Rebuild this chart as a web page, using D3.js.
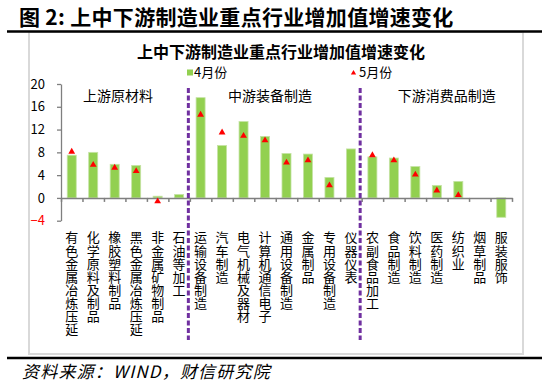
<!DOCTYPE html>
<html>
<head>
<meta charset="utf-8">
<script src="https://cdn.jsdelivr.net/npm/d3@7"></script>
<style>
  body { margin: 0; background: #fff; }
  text { font-family: "Noto Sans CJK SC", "Liberation Sans", sans-serif; }
</style>
</head>
<body>
<div class="canvas"></div>
<script>
// data
const categories = ['有色金属冶炼压延', '化学原料及制品', '橡胶塑料制品', '黑色金属冶炼压延', '非金属矿物制品', '石油等加工',
    '运输设备制造', '汽车制造', '电气机械及器材', '计算机通信电子', '通用设备制造', '金属制品', '专用设备制造', '仪器仪表',
    '农副食品加工', '食品制造', '饮料制造', '医药制造', '纺织业', '烟草制品', '服装服饰'];
const april = [7.5, 8.0, 5.9, 5.7, 0.3, 0.6, 17.6, 9.2, 13.4, 10.8, 7.8, 7.7, 3.6, 8.6, 7.2, 7.0, 5.5, 2.2, 2.9, null, -3.4];
const may = [8.1, 5.8, 5.3, 4.7, -0.6, null, 14.6, 11.5, 10.9, 10.1, 6.2, 6.6, 2.2, null, 7.5, 6.6, 4.1, 1.3, 0.5, null, null];
const yTicks = [-4, 0, 4, 8, 12, 16, 20];
const groupNames = ['上游原材料', '中游装备制造', '下游消费品制造'];
const groupBreaks = [6, 14];
const seriesNames = ['4月份', '5月份'];

const width = 550, height = 386;
const plot = { left: 61, right: 512, top: 84, bottom: 220.7 };

const svg = d3.select('.canvas')
    .append('svg')
    .attr('width', width)
    .attr('height', height);

// header + frame
svg.append('text')
    .attr('x', 19).attr('y', 25)
    .attr('font-size', 21).attr('font-weight', 'bold')
    .attr('letter-spacing', 0.3)
    .text('图 2:  上中下游制造业重点行业增加值增速变化');

svg.append('rect')
    .attr('x', 29).attr('y', 32)
    .attr('width', 494).attr('height', 322)
    .attr('fill', '#fff')
    .attr('stroke', '#d9d9d9').attr('stroke-width', 2);

svg.append('line')
    .attr('x1', 7).attr('x2', 542).attr('y1', 31.5).attr('y2', 31.5)
    .attr('stroke', '#000').attr('stroke-width', 2.5);
svg.append('line')
    .attr('x1', 7).attr('x2', 542).attr('y1', 358).attr('y2', 358)
    .attr('stroke', '#000').attr('stroke-width', 2.5);

svg.append('text')
    .attr('x', 22).attr('y', 378)
    .attr('font-size', 17).attr('font-style', 'italic')
    .attr('letter-spacing', 1.2)
    .attr('font-family', '"Liberation Serif", "Noto Sans CJK SC", serif')
    .text('资料来源：WIND，财信研究院');

// chart title
svg.append('text')
    .attr('x', 281).attr('y', 58)
    .attr('text-anchor', 'middle')
    .attr('font-size', 16).attr('font-weight', 'bold')
    .text('上中下游制造业重点行业增加值增速变化');

// scales
const x = d3.scaleBand()
    .domain(categories)
    .range([plot.left, plot.right])
    .paddingInner(0.58)
    .paddingOuter(0.29);
const xi = d3.scaleLinear().domain([0, categories.length]).range([plot.left, plot.right]);
const y = d3.scaleLinear().domain([-4, 20]).range([plot.bottom, plot.top]);

// y axis
const yAxisGroup = svg.append('g')
    .attr('transform', `translate(${plot.left},0)`)
    .call(d3.axisLeft(y).tickValues(yTicks).tickSize(4).tickSizeOuter(0).tickPadding(12));
yAxisGroup.select('.domain').attr('stroke', '#7f7f7f').attr('stroke-width', 1.3);
yAxisGroup.selectAll('.tick line').attr('stroke', '#7f7f7f').attr('stroke-width', 1.3);
yAxisGroup.selectAll('text')
    .attr('font-size', 13)
    .attr('font-family', '"Liberation Sans", sans-serif')
    .attr('fill', d => d < 0 ? '#ff0000' : '#000');

// bars
const bars = categories.map((c, i) => ({ c, v: april[i] })).filter(d => d.v != null);
svg.append('g').selectAll('rect')
    .data(bars)
    .enter()
    .append('rect')
    .attr('x', d => x(d.c))
    .attr('width', x.bandwidth())
    .attr('y', d => y(Math.max(0, d.v)))
    .attr('height', d => Math.abs(y(d.v) - y(0)))
    .attr('fill', '#92d050')
    .attr('stroke', '#c5e3a4')
    .attr('stroke-width', 0.8);

// x axis at zero
const xAxisGroup = svg.append('g')
    .attr('transform', `translate(0,${y(0)})`)
    .call(d3.axisBottom(xi).tickValues(d3.range(categories.length + 1)).tickFormat('').tickSize(4).tickSizeOuter(0));
xAxisGroup.select('.domain').attr('stroke', '#7f7f7f').attr('stroke-width', 1.5);
xAxisGroup.selectAll('.tick line').attr('stroke', '#7f7f7f').attr('stroke-width', 1.5);

// triangles for May
const tri = d3.symbol().type(d3.symbolTriangle).size(20);
const pts = categories.map((c, i) => ({ c, v: may[i] })).filter(d => d.v != null);
svg.append('g').selectAll('path')
    .data(pts)
    .enter()
    .append('path')
    .attr('d', tri)
    .attr('transform', d => `translate(${x(d.c) + x.bandwidth() / 2},${y(d.v)})`)
    .attr('fill', '#ff0000');

// vertical category labels (upright characters, top to bottom)
svg.append('g').selectAll('text')
    .data(categories)
    .enter()
    .append('text')
    .attr('x', d => x(d) + x.bandwidth() / 2)
    .attr('y', 231)
    .attr('font-size', 13)
    .style('writing-mode', 'vertical-rl')
    .style('text-orientation', 'upright')
    .attr('letter-spacing', 0.1)
    .text(d => d);

// group dividers
svg.append('g').selectAll('line')
    .data(groupBreaks)
    .enter()
    .append('line')
    .attr('x1', d => xi(d) - 1.5).attr('x2', d => xi(d) - 1.5)
    .attr('y1', 88).attr('y2', 340)
    .attr('stroke', '#7030a0')
    .attr('stroke-width', 3)
    .attr('stroke-dasharray', '5,2.5');

// group labels
const groupAt = [2.65, 9.73, 17.96];
svg.append('g').selectAll('text')
    .data(groupNames)
    .enter()
    .append('text')
    .attr('x', (d, i) => xi(groupAt[i]))
    .attr('y', 101)
    .attr('text-anchor', 'middle')
    .attr('font-size', 14)
    .text(d => d);

// legend
const legend = svg.append('g');
legend.append('rect')
    .attr('x', 187).attr('y', 69.5).attr('width', 6).attr('height', 6)
    .attr('fill', '#92d050');
legend.append('text')
    .attr('x', 194).attr('y', 77).attr('font-size', 13)
    .text(seriesNames[0]);
legend.append('path')
    .attr('d', d3.symbol().type(d3.symbolTriangle).size(12))
    .attr('transform', 'translate(353.5,73)')
    .attr('fill', '#ff0000');
legend.append('text')
    .attr('x', 359).attr('y', 77).attr('font-size', 13)
    .text(seriesNames[1]);
</script>
</body>
</html>
